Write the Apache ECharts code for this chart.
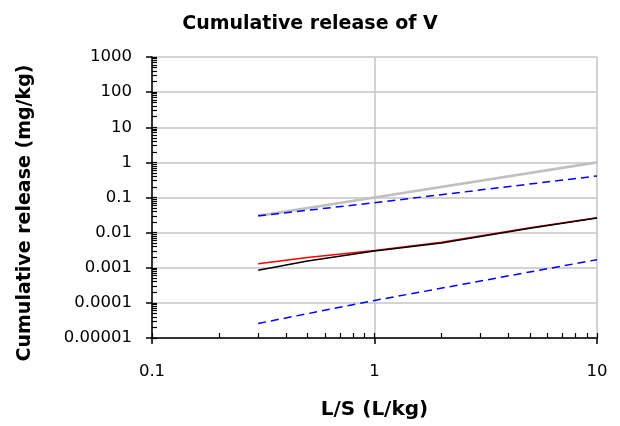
<!DOCTYPE html>
<html>
<head>
<meta charset="utf-8">
<script src="https://cdn.jsdelivr.net/npm/echarts@6/dist/echarts.min.js"></script>
<style>
html,body{margin:0;padding:0;background:#fff;}
#chart{width:620px;height:426px;}
</style>
</head>
<body>
<div id="chart"></div>
<script>
// ---- data ----
var chartTitle = 'Cumulative release of V';
var xAxisTitle = 'L/S (L/kg)';
var yAxisTitle = 'Cumulative release (mg/kg)';

var xTickLabels = {'-1': '0.1', '0': '1', '1': '10'};
var yTickLabels = {'-5': '0.00001', '-4': '0.0001', '-3': '0.001', '-2': '0.01', '-1': '0.1', '0': '1', '1': '10', '2': '100', '3': '1000'};

var greyX = [0.3, 1, 10];
var greyY = [0.03, 0.1, 1.0];

var blueUpperX = [0.3, 1, 10];
var blueUpperY = [0.03, 0.071, 0.41];

var blueLowerX = [0.3, 1, 10];
var blueLowerY = [0.000026, 0.000117, 0.0017];

var redX = [0.3, 0.5, 1, 2, 5, 10];
var redY = [0.0013, 0.00195, 0.0031, 0.0053, 0.0137, 0.0265];

var blackX = [0.3, 0.5, 1, 2, 5, 10];
var blackY = [0.00085, 0.00155, 0.0030, 0.0051, 0.0134, 0.0262];

// log minor tick values (1..9 times each decade)
function logTicks(minExp, maxExp) {
  var out = [];
  for (var e = minExp; e < maxExp; e++) {
    for (var m = 1; m <= 9; m++) out.push(+(m * Math.pow(10, e)).toPrecision(6));
  }
  out.push(+Math.pow(10, maxExp).toPrecision(6));
  return out;
}
var xMinorTicks = logTicks(-1, 1);
var yMinorTicks = logTicks(-5, 3);

function pairs(xs, ys) { return xs.map(function (x, i) { return [x, ys[i]]; }); }

var FONT = "'DejaVu Sans', Verdana, sans-serif";
var gridColor = '#c4c4c4';

var chart = echarts.init(document.getElementById('chart'), null, {renderer: 'canvas'});
chart.setOption({
  animation: false,
  backgroundColor: '#ffffff',
  title: {
    text: chartTitle,
    left: 'center',
    top: 10,
    textStyle: {fontFamily: FONT, fontWeight: 'bold', fontSize: 19, color: '#000'}
  },
  grid: {left: 152, right: 23, top: 57, bottom: 88, containLabel: false},
  xAxis: [{
    type: 'log', logBase: 10, min: 0.1, max: 10, position: 'bottom',
    name: xAxisTitle, nameLocation: 'middle', nameGap: 62,
    nameTextStyle: {fontFamily: FONT, fontWeight: 'bold', fontSize: 20, color: '#000'},
    axisLine: {show: true, lineStyle: {color: '#000', width: 1.5}},
    axisTick: {show: true, inside: false, length: 6, lineStyle: {color: '#000', width: 1.5}},
    axisLabel: {margin: 25, fontFamily: FONT, fontSize: 16.5, color: '#000',
      formatter: function (v) { var k = String(Math.round(Math.log10(v))); return xTickLabels[k] || ''; }},
    splitLine: {show: true, lineStyle: {color: gridColor, width: 1.5}},
    minorTick: {show: false}
  }, {
    type: 'log', logBase: 10, min: 0.1, max: 10, position: 'bottom', gridIndex: 0,
    axisLine: {show: false},
    axisTick: {show: true, inside: true, length: 5, customValues: xMinorTicks, lineStyle: {color: '#000', width: 1.2}},
    axisLabel: {show: false},
    splitLine: {show: false}
  }],
  yAxis: [{
    type: 'log', logBase: 10, min: 0.00001, max: 1000, position: 'left',
    name: yAxisTitle, nameLocation: 'middle', nameRotate: 90, nameGap: 117,
    nameTextStyle: {fontFamily: FONT, fontWeight: 'bold', fontSize: 19, color: '#000', padding: [0, 31, 0, 0]},
    axisLine: {show: true, lineStyle: {color: '#000', width: 1.5}},
    axisTick: {show: true, inside: false, length: 6, lineStyle: {color: '#000', width: 1.5}},
    axisLabel: {margin: 20, fontFamily: FONT, fontSize: 16.5, color: '#000',
      formatter: function (v) { var k = String(Math.round(Math.log10(v))); return yTickLabels[k] || ''; }},
    splitLine: {show: true, lineStyle: {color: gridColor, width: 1.5}}
  }, {
    type: 'log', logBase: 10, min: 0.00001, max: 1000, position: 'left', gridIndex: 0,
    axisLine: {show: false},
    axisTick: {show: true, inside: true, length: 5, customValues: yMinorTicks, lineStyle: {color: '#000', width: 1.2}},
    axisLabel: {show: false},
    splitLine: {show: false}
  }],
  series: [
    {type: 'line', name: 'grey', data: pairs(greyX, greyY), symbol: 'none', z: 3,
      lineStyle: {color: '#c0c0c0', width: 2.6}},
    {type: 'line', name: 'blueUpper', data: pairs(blueUpperX, blueUpperY), symbol: 'none', z: 4,
      lineStyle: {color: '#0000ff', width: 1.5, type: [8, 5]}},
    {type: 'line', name: 'blueLower', data: pairs(blueLowerX, blueLowerY), symbol: 'none', z: 4,
      lineStyle: {color: '#0000ff', width: 1.5, type: [8, 5]}},
    {type: 'line', name: 'red', data: pairs(redX, redY), symbol: 'none', z: 4,
      lineStyle: {color: '#ff0000', width: 1.5}},
    {type: 'line', name: 'black', data: pairs(blackX, blackY), symbol: 'none', z: 5,
      lineStyle: {color: '#000000', width: 1.5}}
  ]
});
</script>
</body>
</html>
